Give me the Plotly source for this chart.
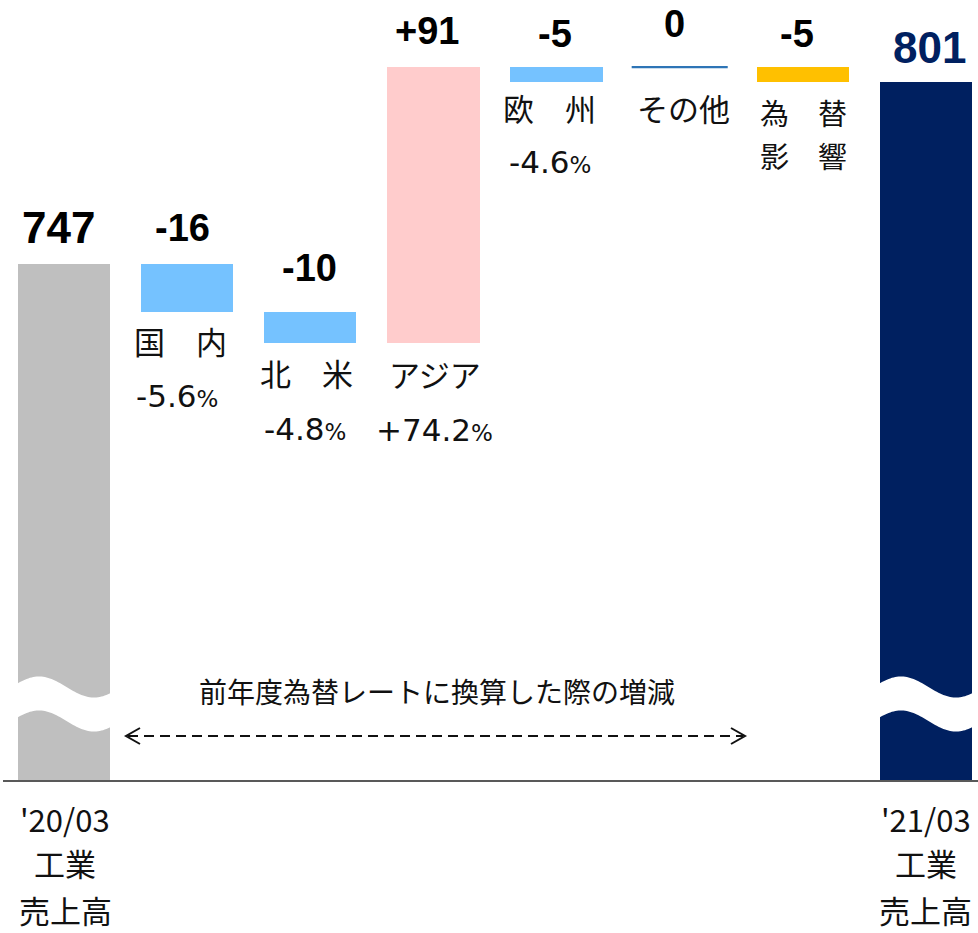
import numpy as np
import plotly.graph_objects as go

# ---------------- data ----------------
categories = ["'20/03 工業売上高", "国内", "北米", "アジア", "欧州", "その他", "為替影響", "'21/03 工業売上高"]
value_labels = ["747", "-16", "-10", "+91", "-5", "0", "-5", "801"]
bar_bottom = [0, 731, 721, 721, 807, 812, 807, 0]
bar_top = [747, 747, 731, 812, 812, 812, 812, 807]
region_names = [["国　内"], ["北　米"], ["アジア"], ["欧　州"], ["その他"], ["為　替", "影　響"]]
growth_pct = ["-5.6", "-4.8", "+74.2", "-4.6", "", ""]
bottom_labels = [["'20/03", "工業", "売上高"], ["'21/03", "工業", "売上高"]]
note_text = "前年度為替レートに換算した際の増減"

# ---------------- style ----------------
colors = ["#BFBFBF", "#75C2FF", "#75C2FF", "#FFCCCC", "#75C2FF", "#2E75B6", "#FFC000", "#002060"]
JP = "Noto Sans CJK JP"
NUM = "Liberation Sans"
PCT = "DejaVu Sans"

W, H = 978, 933
L, R, T, B = 3, 0, 0, 153
PW, PH = W - L - R, H - T - B
X_PER = 123.14                      # px per category
x0 = -(64 - L) / X_PER
x1 = x0 + PW / X_PER
S = 3.03                            # px per value unit
y0 = 576.7
y1 = y0 + PH / S


def dx(px):
    return x0 + (px - L) / X_PER


def dy(py):
    return y0 + (T + PH - py) / S


def pyp(py):
    return (T + PH - py) / PH


idx = list(range(len(categories)))
bar_idx = [i for i in idx if bar_top[i] != bar_bottom[i]]

fig = go.Figure()
fig.add_trace(go.Bar(
    x=bar_idx,
    y=[bar_top[i] - bar_bottom[i] for i in bar_idx],
    base=[bar_bottom[i] for i in bar_idx],
    marker=dict(color=[colors[i] for i in bar_idx], line=dict(width=0)),
    width=0.75,
    hovertext=[categories[i] for i in bar_idx],
    showlegend=False,
))
# zero-change item drawn as a thin line
flat = [i for i in idx if bar_top[i] == bar_bottom[i]]
for i in flat:
    fig.add_trace(go.Scatter(
        x=[i - 0.39, i + 0.39], y=[bar_top[i], bar_top[i]],
        mode="lines", line=dict(color=colors[i], width=2.2),
        showlegend=False, hoverinfo="skip",
    ))

shapes = []
# wavy axis-break bands on the two total bars
for i in (0, len(categories) - 1):
    cpx = 64 + i * X_PER
    left, right = cpx - 46, cpx + 46
    xs = np.linspace(left - 3, right + 3, 60)
    ctr = 704 - 10.5 * np.cos(2 * np.pi * (xs - (left + 21)) / 110)
    top = ctr - 17
    bot = ctr + 17
    pts = [(dx(a), dy(b)) for a, b in zip(xs, top)] + [(dx(a), dy(b)) for a, b in zip(xs[::-1], bot[::-1])]
    path = "M " + " L ".join(f"{a:.4f},{b:.4f}" for a, b in pts) + " Z"
    shapes.append(dict(type="path", path=path, xref="x", yref="y",
                       fillcolor="white", line=dict(width=0), layer="above"))

# dashed double arrow
ay = 736
shapes.append(dict(type="line", xref="x", yref="y", x0=dx(128), x1=dx(743), y0=dy(ay), y1=dy(ay),
                   line=dict(color="#111111", width=2, dash="10px,6px")))
for tip, d in ((126, 1), (745, -1)):
    p = f"M {dx(tip + d*14):.4f},{dy(ay-8):.4f} L {dx(tip):.4f},{dy(ay):.4f} L {dx(tip + d*14):.4f},{dy(ay+8):.4f}"
    shapes.append(dict(type="path", path=p, xref="x", yref="y", line=dict(color="#111111", width=2)))

annotations = []


def ann(text, i, py, xshift=0, size=30, family=JP, color="#111111", bold=False):
    annotations.append(dict(
        text=f"<b>{text}</b>" if bold else text, x=i, xref="x", y=pyp(py), yref="paper",
        xshift=xshift, xanchor="center", yanchor="middle", showarrow=False,
        font=dict(size=size, family=family, color=color)))


# value labels
val_py = [228, 228, 268, 31, 34, 24, 34, 47]
val_xs = [-5.5, -5, -1, -6.5, -2, -5, -6, 3.5]
for i in idx:
    big = i in (0, len(categories) - 1)
    ann(value_labels[i], i, val_py[i], val_xs[i], size=44 if big else 38, family=NUM,
        color="#002060" if i == len(categories) - 1 else "#000000", bold=True)

# region names and growth rates
name_py = [340, 372, 373, 108, 108, 112]
name_xs = [-7, -4, 1.5, -6.7, 3.3, 1]
pct_py = [396, 429, 430, 162]
pct_xs = [-10, -5, 1.5, -6.7]
for k, lines in enumerate(region_names):
    i = k + 1
    multi = len(lines) > 1
    for m, nm in enumerate(lines):
        ann(nm, i, name_py[k] + 43 * m, name_xs[k], size=29 if multi else 31)
    if growth_pct[k]:
        ann(f"{growth_pct[k]}<span style='font-size:23px'>%</span>", i, pct_py[k], pct_xs[k],
            size=31, family=PCT)

# bottom labels
line_py = [818, 862, 909]
for j, i in enumerate((0, len(categories) - 1)):
    for k, t in enumerate(bottom_labels[j]):
        ann(t, i, line_py[k], 1 if i == 0 else 0, size=31)

# note
annotations.append(dict(text=note_text, x=dx(436.5), xref="x", y=pyp(691), yref="paper",
                        xanchor="center", yanchor="middle", showarrow=False,
                        font=dict(size=28, family=JP, color="#111111")))

fig.update_layout(
    width=W, height=H,
    margin=dict(l=L, r=R, t=T, b=B),
    paper_bgcolor="white", plot_bgcolor="white",
    bargap=0,
    xaxis=dict(range=[x0, x1], showgrid=False, zeroline=False, showticklabels=False, ticks="",
               showline=True, linecolor="#595959", linewidth=2, fixedrange=True),
    yaxis=dict(range=[y0, y1], showgrid=False, zeroline=False, showticklabels=False, ticks="",
               showline=False, fixedrange=True),
    shapes=shapes,
    annotations=annotations,
    showlegend=False,
)

fig.write_html("out.html", config={"displayModeBar": False},
               post_script="document.body.style.margin='0';document.body.style.overflow='hidden';")
